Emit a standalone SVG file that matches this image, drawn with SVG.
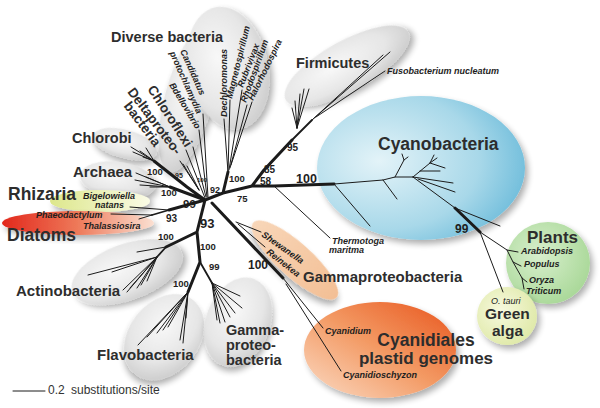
<svg xmlns="http://www.w3.org/2000/svg" width="600" height="408" viewBox="0 0 600 408">
<defs>
<filter id="sh" x="-25%" y="-25%" width="160%" height="160%">
<feGaussianBlur in="SourceAlpha" stdDeviation="3"/>
<feOffset dx="3" dy="4"/>
<feComponentTransfer><feFuncA type="linear" slope="0.32"/></feComponentTransfer>
<feMerge><feMergeNode/><feMergeNode in="SourceGraphic"/></feMerge>
</filter>
<radialGradient id="gray" cx="0.4" cy="0.4" r="0.65">
<stop offset="0" stop-color="#f8f8f8"/><stop offset="0.65" stop-color="#e6e6e6"/><stop offset="1" stop-color="#cdcdcd"/>
</radialGradient>
<radialGradient id="cyan" cx="0.3" cy="0.45" r="0.8">
<stop offset="0" stop-color="#e3f3f8"/><stop offset="0.6" stop-color="#a8d8e9"/><stop offset="1" stop-color="#5fb5d7"/>
</radialGradient>
<linearGradient id="orange" x1="0" y1="1" x2="1" y2="0">
<stop offset="0" stop-color="#fbdcc6"/><stop offset="0.5" stop-color="#f39a64"/><stop offset="1" stop-color="#e8541c"/>
</linearGradient>
<linearGradient id="peach" x1="0" y1="0" x2="1" y2="0">
<stop offset="0" stop-color="#f8d6b8"/><stop offset="1" stop-color="#f3bf95"/>
</linearGradient>
<linearGradient id="diat" x1="0" y1="0" x2="1" y2="0">
<stop offset="0" stop-color="#e2281c"/><stop offset="0.5" stop-color="#ee7a5a"/><stop offset="1" stop-color="#fbe0d2"/>
</linearGradient>
<linearGradient id="rhiz" x1="0" y1="0" x2="1" y2="0">
<stop offset="0" stop-color="#dde78c"/><stop offset="1" stop-color="#fafbe6"/>
</linearGradient>
<radialGradient id="plant" cx="0.4" cy="0.4" r="0.65">
<stop offset="0" stop-color="#d8efcd"/><stop offset="1" stop-color="#a9d898"/>
</radialGradient>
<radialGradient id="alga" cx="0.4" cy="0.4" r="0.65">
<stop offset="0" stop-color="#f7f9de"/><stop offset="1" stop-color="#dfe9a8"/>
</radialGradient>
</defs>
<style>
.lb { font-family: "Liberation Sans", Arial, Helvetica, sans-serif; font-weight: bold; fill: #2d2d2d; }
.sp { font-family: "Liberation Sans", Arial, Helvetica, sans-serif; font-weight: bold; font-style: italic; fill: #1e1e1e; font-size: 9px; }
.bs { font-family: "Liberation Sans", Arial, Helvetica, sans-serif; font-weight: bold; fill: #1e1e1e; }
.blob { filter: url(#sh); }
</style>
<rect width="600" height="408" fill="#ffffff"/>

<!-- blobs -->
<g id="chloroflexi-delta">
<ellipse class="blob" cx="189" cy="98" rx="24" ry="76" transform="rotate(15 189 98)" fill="url(#gray)"/>
</g>
<g id="diverse-bacteria">
<ellipse class="blob" cx="228" cy="68" rx="40" ry="62" transform="rotate(-12 228 68)" fill="url(#gray)"/>
<text class="lb" x="111" y="42" font-size="14.5">Diverse bacteria</text>
<text class="sp" transform="translate(227,117) rotate(-90)">Dechloromonas</text>
<text class="sp" transform="translate(232,99) rotate(-76)">Magnetospirillum</text>
<text class="sp" transform="translate(243,88) rotate(-69)">Rubrivivax</text>
<text class="sp" transform="translate(246,103) rotate(-70)">Rhodospirillum</text>
<text class="sp" transform="translate(253,101) rotate(-64)">Halorhodospira</text>
</g>
<g id="firmicutes">
<ellipse class="blob" cx="347" cy="66" rx="70" ry="25" transform="rotate(-29 347 66)" fill="url(#gray)"/>
<text class="lb" x="296" y="68" font-size="14.5">Firmicutes</text>
<text class="sp" x="387" y="74">Fusobacterium nucleatum</text>
</g>
<g id="chlorobi">
<ellipse class="blob" cx="125" cy="144" rx="33" ry="14" transform="rotate(15 125 144)" fill="url(#gray)"/>
<text class="lb" x="72" y="143" font-size="14.5">Chlorobi</text>
</g>
<g id="archaea">
<ellipse class="blob" cx="118" cy="180" rx="38" ry="18" transform="rotate(8 118 180)" fill="url(#gray)"/>
<text class="lb" x="73" y="177" font-size="15">Archaea</text>
</g>
<g id="rhizaria">
<ellipse class="blob" cx="100" cy="201" rx="50" ry="11" fill="url(#rhiz)"/>
<text class="lb" x="8" y="200" font-size="17.5">Rhizaria</text>
<text class="sp" x="83" y="199" font-size="9.5">Bigelowiella</text>
<text class="sp" x="95" y="208" font-size="9.5">natans</text>
</g>
<g id="diatoms">
<ellipse class="blob" cx="78" cy="223" rx="76" ry="12" fill="url(#diat)"/>
<text class="lb" x="7" y="241" font-size="17.5">Diatoms</text>
<text class="sp" x="36" y="218" font-size="9.7" fill="#3d0b0b">Phaeodactylum</text>
<text class="sp" x="83" y="229" font-size="10" fill="#3a1a10">Thalassiosira</text>
</g>
<g id="actinobacteria">
<ellipse class="blob" cx="127" cy="272" rx="58" ry="28" transform="rotate(-20 127 272)" fill="url(#gray)"/>
<text class="lb" x="16" y="296" font-size="15">Actinobacteria</text>
</g>
<g id="flavobacteria">
<ellipse class="blob" cx="164" cy="337" rx="35" ry="47" transform="rotate(38 164 337)" fill="url(#gray)"/>
<text class="lb" x="97" y="360" font-size="15">Flavobacteria</text>
</g>
<g id="gammaproteobacteria-1">
<ellipse class="blob" cx="238" cy="322" rx="32" ry="46" transform="rotate(20 238 322)" fill="url(#gray)"/>
<text class="lb" x="226" y="335" font-size="14.5">Gamma-</text>
<text class="lb" x="226" y="350" font-size="14.5">proteo-</text>
<text class="lb" x="226" y="365" font-size="14.5">bacteria</text>
</g>
<g id="gammaproteobacteria-2">
<ellipse class="blob" cx="295" cy="260" rx="56" ry="17" transform="rotate(42 295 260)" fill="url(#peach)"/>
<text class="lb" x="303" y="282" font-size="15">Gammaproteobacteria</text>
<text class="sp" transform="translate(261,236) rotate(35)">Shewanella</text>
<text class="sp" transform="translate(266,253) rotate(38)">Reinekea</text>
</g>
<g id="cyanobacteria">
<ellipse class="blob" cx="421" cy="168" rx="104" ry="72" fill="url(#cyan)"/>
<text class="lb" x="378" y="150" font-size="17.5">Cyanobacteria</text>
</g>
<g id="cyanidiales">
<ellipse class="blob" cx="380" cy="350" rx="76" ry="48" fill="url(#orange)"/>
<text class="lb" x="426" y="346" font-size="17.5" text-anchor="middle">Cyanidiales</text>
<text class="lb" x="426" y="364" font-size="17" text-anchor="middle">plastid genomes</text>
<text class="sp" x="325" y="334" font-size="10">Cyanidium</text>
<text class="sp" x="343" y="378">Cyanidioschyzon</text>
</g>
<g id="plants">
<ellipse class="blob" cx="548" cy="263" rx="42" ry="41" fill="url(#plant)"/>
<text class="lb" x="527" y="243" font-size="17">Plants</text>
<text class="sp" x="521" y="254" font-size="9.7">Arabidopsis</text>
<text class="sp" x="524" y="267" font-size="9.7">Populus</text>
<text class="sp" x="529" y="283" font-size="9.7">Oryza</text>
<text class="sp" x="526" y="294" font-size="9.7">Triticum</text>
</g>
<g id="green-alga">
<ellipse class="blob" cx="507" cy="316" rx="30" ry="29" fill="url(#alga)"/>
<text x="491" y="304" font-size="9" font-style="italic" font-family="Liberation Sans, Arial, sans-serif" fill="#222">O. tauri</text>
<text class="lb" x="485" y="319" font-size="15.5">Green</text>
<text class="lb" x="492" y="336" font-size="15.5">alga</text>
</g>

<!-- tree connectors -->
<g id="connectors" fill="none" stroke="#1b1b1b" stroke-linecap="round" stroke-linejoin="round">
<path stroke-width="3" d="M205,200 L223,193 L252,186 L274,186 L334,184 M252,186 L264,170 L292,140 M223,193 L228,172 M205,200 L187,187 L154,161 M205,200 L170,187 M205,200 L169,210 M205,200 L197,232 L200,262 M197,232 L166,247 M200,262 L188,292 M455,208 L480,232 M212,203 L283,278"/>
<path stroke-width="1.8" d="M200,262 L212,283 M169,210 L152,215 M166,247 L157,257 M292,140 L312,120"/>
<path stroke-width="1" d="M228,172 L224,119 M228,172 L230,100 M229,170 L242,90 M230,168 L247,105 M231,165 L252,102
M205,198 L186,150 M199,190 L180,161 M199,190 L183,164 M199,190 L187,166 M206,197 L193,147 M207,197 L199,130 M208,197 L203,114
M154,161 L131,147 M154,161 L133,152 M154,161 L140,151 M154,161 L143,157 M154,161 L146,148
M170,187 L136,173 M170,187 L135,180 M170,187 L140,185 M170,187 L146,177 M170,187 L150,187
M169,210 L130,207 M152,215 L111,214 M152,215 L139,219
M166,247 L137,252 M157,257 L88,275 M157,257 L112,272 M157,257 L123,290 M157,257 L127,292 M157,257 L130,288 M157,257 L137,288 M157,257 L141,285 M157,257 L147,281
M188,292 L138,345 M188,292 L147,337 M188,292 L157,333 M188,292 L163,330 M188,292 L168,327 M188,292 L180,340 M188,292 L183,343 M188,292 L186,318
M212,283 L217,320 M212,283 L220,323 M212,283 L225,322 M212,283 L230,317 M212,283 L235,313 M212,283 L242,308 M212,283 L240,296
M297,128 L292,108 M297,128 L295,101 M297,128 L300,94 M297,128 L304,89 M297,128 L309,89
M312,120 L383,55 M312,120 L390,52 M316,117 L385,71
M274,186 L330,238
M334,184 L370,226 M334,184 L383,180 L395,177 L413,177 M383,180 L397,199 M395,177 L404,160 L402,154 M404,160 L408,157
M413,177 L430,163 L434,155 M430,163 L437,158 M430,163 L445,168 M420,171 L440,171
M413,177 L453,183 M418,179 L455,192 M413,177 L455,208 M455,208 L500,226
M480,232 L503,292 M480,232 L507,250 L518,252 M507,250 L513,262 L521,266 M513,262 L522,278 L527,282 M522,278 L524,289
M236,222 L261,232 M238,224 L265,247 M283,278 L323,328 M286,284 L341,371
M13,391 L45,391"/>
</g>

<!-- rotated clade labels near hub -->
<g id="deltaproteobacteria">
<text class="lb" font-size="13.5" transform="translate(127,92) rotate(53)"><tspan x="0" y="0">Deltaproteo-</tspan><tspan x="9" y="11.5">bacteria</tspan></text>
</g>
<g id="chloroflexi">
<text class="lb" font-size="13.5" transform="translate(147,89) rotate(57)">Chloroflexi</text>
</g>
<g id="bdellovibrio">
<text class="sp" transform="translate(169,85) rotate(59)">Bdellovibrio</text>
</g>
<g id="candidatus">
<text class="sp" transform="translate(180,51) rotate(66)">Candidatus</text>
<text class="sp" transform="translate(169.5,53) rotate(66)">protochlamydia</text>
</g>
<g id="thermotoga">
<text class="sp" x="332" y="244">Thermotoga</text>
<text class="sp" x="329" y="253">maritma</text>
</g>

<!-- support values -->
<g id="support">
<text class="bs" x="147" y="175" font-size="9.5">100</text>
<text class="bs" x="175" y="178" font-size="7">95</text>
<text class="bs" x="197" y="182" font-size="6">100</text>
<text class="bs" x="161" y="196" font-size="9.5">100</text>
<text class="bs" x="183" y="208" font-size="11.5">99</text>
<text class="bs" x="166" y="222" font-size="10">93</text>
<text class="bs" x="200" y="228" font-size="13">93</text>
<text class="bs" x="158" y="240" font-size="9.5">100</text>
<text class="bs" x="200" y="250" font-size="9.5">100</text>
<text class="bs" x="209" y="270" font-size="9.5">99</text>
<text class="bs" x="173" y="287" font-size="9.5">100</text>
<text class="bs" x="210" y="193" font-size="9">92</text>
<text class="bs" x="229" y="182" font-size="9.5">100</text>
<text class="bs" x="237" y="202" font-size="9.5">75</text>
<text class="bs" x="264" y="173" font-size="10">85</text>
<text class="bs" x="260" y="185" font-size="10">58</text>
<text class="bs" x="287" y="151" font-size="10">95</text>
<text class="bs" x="296" y="183" font-size="12.5">100</text>
<text class="bs" x="455" y="233" font-size="12">99</text>
<text class="bs" x="248" y="269" font-size="12">100</text>
</g>

<g id="scale">
<text x="48" y="394" font-size="12" word-spacing="3" font-family="Liberation Sans, Arial, sans-serif" fill="#333">0.2 substitutions/site</text>
</g>
</svg>
